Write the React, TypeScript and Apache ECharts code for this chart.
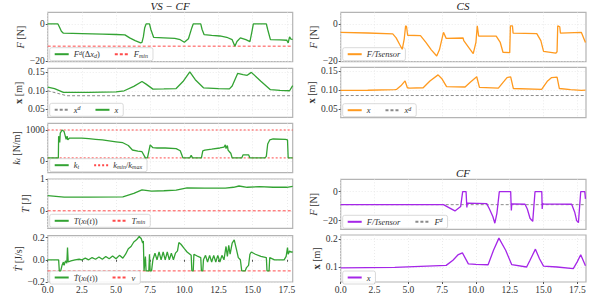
import { useEffect, useRef } from "react";
import * as echarts from "echarts";

// ---------- VS-CF (left column) ----------
const vsFT = [0, 0.75, 0.85, 1.0, 1.15, 2.5, 4.0, 5.0, 5.65, 6.0, 6.4, 6.8, 6.9, 7.0, 7.1, 7.2, 7.45, 7.55, 7.75, 8.5, 9.3, 9.7, 10.0, 10.3, 10.55, 10.65, 11.2, 11.3, 11.45, 12.0, 12.6, 13.1, 13.5, 13.7, 13.85, 14.1, 14.5, 14.8, 14.95, 15.05, 16.0, 16.1, 16.3, 17.0, 17.5, 17.6, 17.7, 17.8, 17.93];
const vsFV = [0, 0, -1.5, -4, -5, -5.2, -5.5, -5.7, -5.9, -7.5, -9, -10.2, -10, -7, -2, 0, 0, -3, -7.2, -7.5, -7.8, -8.5, -9.9, -8, -2, 0, 0, -3, -5.8, -6.2, -6.5, -7.2, -8.5, -12, -9.5, -7.5, -8.5, -9.5, -4, 0, 0, -3, -8.5, -8.6, -8.8, -10.2, -7, -8.2, -8.3];
const vsFminT = [0, 17.93];
const vsFminV = [-12, -12];

const vsXT = [0, 0.5, 1.15, 3.0, 5.0, 5.6, 6.3, 6.9, 7.2, 7.7, 8.5, 9.4, 9.9, 10.4, 10.8, 11.4, 12.5, 13.3, 13.5, 13.9, 14.3, 14.6, 14.9, 15.6, 16.3, 17.0, 17.7, 17.93];
const vsXV = [0.110, 0.106, 0.0955, 0.0955, 0.097, 0.100, 0.112, 0.125, 0.118, 0.1045, 0.105, 0.106, 0.125, 0.151, 0.130, 0.108, 0.106, 0.105, 0.113, 0.147, 0.144, 0.142, 0.150, 0.126, 0.103, 0.101, 0.100, 0.114];
const vsXdT = [0, 1.4, 17.93];
const vsXdV = [0.100, 0.0865, 0.0865];

const vsKT = [0, 0.78, 0.8, 0.88, 0.92, 1.05, 1.2, 1.35, 1.42, 1.47, 1.6, 2.5, 3.0, 3.5, 4.0, 4.5, 5.0, 5.5, 5.9, 6.2, 6.6, 6.9, 7.15, 7.3, 7.5, 7.7, 8.0, 8.6, 9.4, 9.7, 9.9, 10.4, 10.5, 10.6, 11.25, 11.35, 11.5, 12.0, 12.6, 12.9, 13.0, 13.05, 13.15, 13.2, 13.3, 13.4, 13.5, 14.2, 14.3, 14.7, 14.8, 15.9, 16.0, 16.1, 16.25, 16.5, 17.4, 17.55, 17.6, 17.93];
const vsKV = [100, 100, 800, 600, 900, 1000, 950, 700, 800, 680, 740, 740, 720, 700, 680, 650, 620, 590, 500, 355, 320, 300, 100, 100, 520, 430, 420, 420, 400, 330, 100, 100, 180, 100, 100, 330, 350, 380, 420, 450, 520, 400, 500, 350, 300, 250, 100, 100, 200, 200, 100, 100, 150, 550, 680, 710, 700, 680, 100, 100];
const vsKminT = [0, 17.93];
const vsKminV = [100, 100];
const vsKmaxT = [0, 17.93];
const vsKmaxV = [1000, 1000];

const vsTT = [0, 1.2, 3, 5.5, 6.3, 6.9, 7.6, 8.5, 9.4, 10.2, 11.5, 13.0, 13.6, 14.0, 14.6, 15.5, 16.5, 17.5, 17.93];
const vsTV = [0.48, 0.43, 0.43, 0.44, 0.55, 0.66, 0.62, 0.63, 0.65, 0.72, 0.71, 0.71, 0.74, 0.78, 0.74, 0.76, 0.74, 0.74, 0.77];
const vsTminT = [0, 17.93];
const vsTminV = [0, 0];

const vsTdT = [0, 0.8, 0.85, 0.95, 1.05, 1.15, 1.2, 1.3, 1.4, 1.45, 1.5, 1.7, 2.0, 2.3, 2.5, 2.75, 3.0, 3.25, 3.5, 3.75, 4.0, 4.25, 4.5, 4.75, 5.0, 5.25, 5.5, 5.7, 5.9, 6.1, 6.3, 6.5, 6.7, 6.85, 6.95, 7.0, 7.05, 7.15, 7.2, 7.4, 7.45, 7.5, 7.6, 7.7, 7.85, 8.0, 8.15, 8.3, 8.45, 8.6, 8.75, 8.9, 9.05, 9.2, 9.35, 9.5, 9.6, 9.75, 10.0, 10.2, 10.5, 10.55, 10.65, 10.7, 11.0, 11.2, 11.25, 11.35, 11.4, 11.55, 11.7, 11.85, 12.0, 12.15, 12.3, 12.45, 12.6, 12.75, 12.9, 13.05, 13.15, 13.25, 13.35, 13.5, 13.65, 13.8, 13.95, 14.1, 14.2, 14.45, 14.55, 14.7, 14.8, 14.9, 15.2, 15.6, 16.0, 16.05, 16.2, 16.25, 16.6, 17.0, 17.3, 17.45, 17.55, 17.6, 17.7, 17.8, 17.93];
const vsTdV = [0, 0, -0.1, -0.1, -0.05, -0.02, -0.05, -0.01, -0.03, 0.11, -0.02, -0.01, 0.0, 0.005, 0.0, 0.015, 0.0, 0.02, 0.005, 0.025, 0.005, 0.03, 0.01, 0.035, 0.01, 0.04, 0.015, 0.05, 0.10, 0.12, 0.16, 0.18, 0.21, 0.19, 0.15, 0.17, -0.1, 0.03, -0.1, -0.1, 0.05, -0.1, -0.1, 0.0, 0.06, 0.0, 0.07, 0.0, 0.07, 0.0, 0.07, 0.0, 0.06, 0.0, 0.06, 0.08, 0.155, 0.14, 0.10, 0.07, 0.04, -0.1, -0.1, 0.05, 0.03, 0.02, -0.1, -0.1, 0.0, 0.04, -0.02, 0.04, -0.02, 0.04, -0.02, 0.04, -0.02, 0.04, 0.0, 0.12, 0.03, 0.13, 0.05, 0.15, 0.18, 0.10, 0.02, 0.0, -0.1, -0.1, -0.07, -0.05, 0.05, 0.07, 0.05, 0.03, 0.02, -0.1, -0.1, 0.02, 0.0, 0.0, 0.0, 0.03, 0.11, 0.05, 0.08, 0.07, 0.07];
const vsNuT = [0, 17.93];
const vsNuV = [-0.1, -0.1];

// ---------- CS (right top) ----------
const csFT = [0, 2.0, 3.85, 4.1, 4.35, 4.55, 4.7, 4.8, 4.87, 4.95, 5.9, 6.3, 6.7, 7.1, 7.3, 7.6, 7.8, 9.05, 9.1, 9.5, 9.8, 10.0, 10.1, 10.2, 11.5, 11.8, 12.0, 12.5, 12.55, 12.7, 12.75, 14.5, 14.8, 15.0, 15.9, 16.0, 16.05, 16.2, 16.25, 17.8, 18.1];
const csFV = [-4.5, -4.9, -5.4, -7.5, -11, -13.7, -8, -1, -1.5, -6.1, -6.3, -10, -14, -17.3, -14, -4.5, -7.8, -7.6, -9, -13, -16, -10, -1, -6.5, -6.6, -10, -15.3, -15.5, -1, -1, -5, -5.2, -9, -14.8, -15.8, -15, -1, -1.5, -5, -4.6, -10];

const csXT = [0, 2, 4.0, 4.14, 4.45, 4.76, 4.93, 5.1, 6.1, 6.6, 7.2, 7.5, 7.83, 9.2, 9.6, 10.06, 10.26, 11.66, 12.1, 12.3, 12.57, 12.77, 14.86, 15.3, 15.6, 16.0, 16.17, 17.0, 17.8, 18.1];
const csXV = [0.100, 0.1005, 0.102, 0.103, 0.112, 0.125, 0.107, 0.106, 0.107, 0.125, 0.141, 0.130, 0.110, 0.109, 0.122, 0.136, 0.108, 0.106, 0.125, 0.134, 0.136, 0.105, 0.103, 0.125, 0.134, 0.135, 0.105, 0.102, 0.100, 0.101];
const csXdT = [0, 18.1];
const csXdV = [0.0865, 0.0865];

// ---------- CF (right bottom) ----------
const cfFT = [0, 7.6, 8.0, 8.45, 8.87, 9.02, 9.27, 9.33, 9.36, 9.4, 10.8, 11.0, 11.25, 11.4, 11.55, 11.73, 12.57, 12.6, 12.62, 12.65, 13.63, 13.8, 14.0, 14.2, 14.37, 14.87, 14.9, 14.93, 14.97, 17.08, 17.3, 17.45, 17.58, 17.75, 18.05, 18.1];
const cfFV = [-9, -9, -11, -13.3, -10.3, 0, 0, -11, -8, -8.3, -8.3, -12, -17.2, -21.8, -15, 0, 0, -8.5, -13, -8.5, -8.7, -12, -18.4, -20.5, 0, 0, -12, -8, -8.5, -8.7, -14, -20, -21.4, 0, 0, -5];
const cfFdT = [0, 18.1];
const cfFdV = [-9, -9];

const cfXT = [0, 4, 7.8, 8.3, 8.7, 9.0, 9.44, 10.0, 10.9, 11.3, 11.7, 12.2, 12.65, 13.75, 14.0, 14.4, 14.7, 15.0, 16.0, 17.2, 17.5, 17.75, 18.1];
const cfXV = [0.0977, 0.100, 0.1067, 0.125, 0.145, 0.151, 0.112, 0.110, 0.109, 0.160, 0.203, 0.160, 0.109, 0.101, 0.125, 0.164, 0.130, 0.104, 0.101, 0.0955, 0.120, 0.144, 0.105];

// ---------- tick labels ----------
const xTicks = [0, 2.5, 5, 7.5, 10, 12.5, 15, 17.5];
const fTicks = [-20, 0];
const xPosTicks = [0.05, 0.1, 0.15];
const kTicks = [0, 1000];
const tTicks = [0, 1];
const tdTicks = [-0.2, 0, 0.2];
const cfXPosTicks = [0.1, 0.2];

const SERIF = "Liberation Serif";
const GREEN = "#33a333";
const ORANGE = "#ff9a1f";
const PURPLE = "#a526e8";
const RED = "#ff4a4a";
const GRAY = "#8a8a8a";
const TXT = "#333";

const zip = (t: number[], v: number[]) => t.map((x, i) => [x, v[i]]);
const minus = (s: string) => s.replace("-", "\u2212");

const richStyles = {
  i: { fontStyle: "italic", fontFamily: SERIF, fontSize: 8.5, color: TXT },
  n: { fontFamily: SERIF, fontSize: 8.5, color: TXT },
  sub: { fontStyle: "italic", fontFamily: SERIF, fontSize: 6, color: TXT, verticalAlign: "bottom", padding: [3, 0, 0, 0] },
  sup: { fontStyle: "italic", fontFamily: SERIF, fontSize: 6, color: TXT, verticalAlign: "top", padding: [0, 0, 3, 0] },
};

const legendText: Record<string, string> = {
  L1_F: "{i|F}{sup|d}{n|(Δ}{i|x}{sub|d}{n|)}",
  L1_Fmin: "{i|F}{sub|min}",
  L2_xd: "{i|x}{sup|d}",
  L2_x: "{i|x}",
  L3_k: "{i|k}{sub|t}",
  L3_kmm: "{i|k}{sub|min}{n|/}{i|k}{sub|max}",
  L4_T: "{i|T}{n|(}{i|x}{sub|t}{n|(}{i|t}{n|))}",
  L4_Tmin: "{i|T}{sub|min}",
  L5_Td: "{i|Ṫ}{n|(}{i|x}{sub|t}{n|(}{i|t}{n|))}",
  L5_nu: "{i|ν}",
  CS1_F: "{i|F/Tsensor}",
  CS2_x: "{i|x}",
  CS2_xd: "{i|x}{sup|d}",
  CF1_F: "{i|F/Tsensor}",
  CF1_Fd: "{i|F}{sup|d}",
  CF2_x: "{i|x}",
};

type Panel = {
  left: number; top: number; width: number; height: number;
  xmax: number; ymin: number; ymax: number; yticks: number[];
  yfmt: (v: number) => string; name: string; gap: number; showX: boolean;
  legend: string[];
};

const LW = 245;
const RW = 245.3;
const LL = 47.7;
const RL = 340.7;
const XL = 17.93;
const XR = 18.14;
const GL = 17;
const GR = 14;

const panels: Panel[] = [
  { left: LL, top: 12.3, width: LW, height: 49.4, xmax: XL, ymin: -20.4, ymax: 6.3, yticks: fTicks, yfmt: (v) => minus(String(v)), name: "{i|F}{n| [N]}", gap: GL, showX: false, legend: ["L1_F", "L1_Fmin"] },
  { left: LL, top: 68.3, width: LW, height: 49, xmax: XL, ymin: 0.028, ymax: 0.161, yticks: xPosTicks, yfmt: (v) => v.toFixed(2), name: "{b|x}{n| [m]}", gap: GL, showX: false, legend: ["L2_xd", "L2_x"] },
  { left: LL, top: 123.3, width: LW, height: 49.4, xmax: XL, ymin: -377, ymax: 1216, yticks: kTicks, yfmt: (v) => String(v), name: "{i|k}{s|t}{n| [N/m]}", gap: GL, showX: false, legend: ["L3_k", "L3_kmm"] },
  { left: LL, top: 179, width: LW, height: 49.3, xmax: XL, ymin: -0.55, ymax: 1.0, yticks: tTicks, yfmt: (v) => String(v), name: "{i|T}{n| [J]}", gap: GL, showX: false, legend: ["L4_T", "L4_Tmin"] },
  { left: LL, top: 235.7, width: LW, height: 49.3, xmax: XL, ymin: -0.2, ymax: 0.217, yticks: tdTicks, yfmt: (v) => minus(v.toFixed(1)), name: "{i|Ṫ}{n| [J/s]}", gap: GL, showX: true, legend: ["L5_Td", "L5_nu"] },
  { left: RL, top: 12.3, width: RW, height: 49.4, xmax: XR, ymin: -20.4, ymax: 6.3, yticks: fTicks, yfmt: (v) => minus(String(v)), name: "{i|F}{n| [N]}", gap: GR, showX: false, legend: ["CS1_F"] },
  { left: RL, top: 67.3, width: RW, height: 50.4, xmax: XR, ymin: 0.028, ymax: 0.161, yticks: xPosTicks, yfmt: (v) => v.toFixed(2), name: "{b|x}{n| [m]}", gap: GR, showX: false, legend: ["CS2_x", "CS2_xd"] },
  { left: RL, top: 179.3, width: RW, height: 50, xmax: XR, ymin: -26, ymax: 8.5, yticks: fTicks, yfmt: (v) => minus(String(v)), name: "{i|F}{n| [N]}", gap: GR, showX: false, legend: ["CF1_F", "CF1_Fd"] },
  { left: RL, top: 235, width: RW, height: 50, xmax: XR, ymin: 0.048, ymax: 0.214, yticks: cfXPosTicks, yfmt: (v) => v.toFixed(1), name: "{b|x}{n| [m]}", gap: GR, showX: true, legend: ["CF2_x"] },
];

type S = { name: string; p: number; t: number[]; v: number[]; color: string; dash?: number[]; width?: number };
const seriesDefs: S[] = [
  { name: "L1_F", p: 0, t: vsFT, v: vsFV, color: GREEN },
  { name: "L1_Fmin", p: 0, t: vsFminT, v: vsFminV, color: RED, dash: [3, 2], width: 1 },
  { name: "L2_xd", p: 1, t: vsXdT, v: vsXdV, color: GRAY, dash: [3, 2], width: 1 },
  { name: "L2_x", p: 1, t: vsXT, v: vsXV, color: GREEN },
  { name: "L3_k", p: 2, t: vsKT, v: vsKV, color: GREEN },
  { name: "L3_kmm", p: 2, t: vsKminT, v: vsKminV, color: RED, dash: [2, 2], width: 1 },
  { name: "L3_kmm", p: 2, t: vsKmaxT, v: vsKmaxV, color: RED, dash: [2, 2], width: 1 },
  { name: "L4_T", p: 3, t: vsTT, v: vsTV, color: GREEN },
  { name: "L4_Tmin", p: 3, t: vsTminT, v: vsTminV, color: RED, dash: [3, 2], width: 1 },
  { name: "L5_Td", p: 4, t: vsTdT, v: vsTdV, color: GREEN },
  { name: "L5_nu", p: 4, t: vsNuT, v: vsNuV, color: RED, dash: [3, 2], width: 1 },
  { name: "CS1_F", p: 5, t: csFT, v: csFV, color: ORANGE },
  { name: "CS2_x", p: 6, t: csXT, v: csXV, color: ORANGE },
  { name: "CS2_xd", p: 6, t: csXdT, v: csXdV, color: GRAY, dash: [3, 2], width: 1 },
  { name: "CF1_F", p: 7, t: cfFT, v: cfFV, color: PURPLE },
  { name: "CF1_Fd", p: 7, t: cfFdT, v: cfFdV, color: GRAY, dash: [3, 2], width: 1 },
  { name: "CF2_x", p: 8, t: cfXT, v: cfXV, color: PURPLE },
];

function buildOption() {
  const grid = panels.map((p) => ({
    left: p.left, top: p.top, width: p.width, height: p.height,
    show: true, borderColor: "#b4b4b4", borderWidth: 1.2, backgroundColor: "transparent", containLabel: false,
  }));
  const gridLine = { show: true, lineStyle: { color: "#e6e6e6", width: 0.8, type: [1, 2] as number[] } };
  const xAxis = panels.map((p, i) => ({
    type: "value", gridIndex: i, min: 0, max: p.xmax, interval: 2.5,
    axisLine: { show: false },
    axisTick: { show: p.showX, length: 2, customValues: xTicks, lineStyle: { color: "#555" } },
    axisLabel: { show: p.showX, customValues: xTicks, margin: 3, fontFamily: SERIF, fontSize: 9.5, color: TXT, formatter: (v: number) => v.toFixed(1) },
    splitLine: { ...gridLine, customValues: xTicks },
  }));
  const yAxis = panels.map((p, i) => ({
    type: "value", gridIndex: i, min: p.ymin, max: p.ymax,
    axisLine: { show: false },
    axisTick: { show: true, length: 2, customValues: p.yticks, lineStyle: { color: "#555" } },
    axisLabel: { show: true, customValues: p.yticks, margin: 3, fontFamily: SERIF, fontSize: 9.5, color: TXT, formatter: p.yfmt },
    splitLine: { ...gridLine, customValues: p.yticks },
    name: p.name, nameLocation: "middle", nameGap: p.gap, nameRotate: 90,
    nameTextStyle: {
      fontFamily: SERIF, fontSize: 10, color: TXT,
      rich: {
        i: { fontStyle: "italic", fontFamily: SERIF, fontSize: 10.5, color: TXT },
        n: { fontFamily: SERIF, fontSize: 10, color: TXT },
        b: { fontWeight: "bold", fontFamily: SERIF, fontSize: 10.5, color: TXT },
        s: { fontStyle: "italic", fontFamily: SERIF, fontSize: 7, color: TXT, verticalAlign: "bottom" },
      },
    },
  }));
  const legend = panels.map((p) => ({
    data: p.legend,
    left: p.left + 2,
    top: p.top + p.height - 14,
    orient: "horizontal",
    itemWidth: 14, itemHeight: 6, itemGap: 14,
    padding: [2, 5, 2, 4],
    backgroundColor: "rgba(255,255,255,0.85)",
    borderColor: "#d0d0d0", borderWidth: 0.8, borderRadius: 2,
    selectedMode: false,
    itemStyle: { opacity: 0 },
    textStyle: { fontFamily: SERIF, fontSize: 8.5, color: TXT, rich: richStyles },
    formatter: (n: string) => legendText[n] || n,
  }));
  const series = seriesDefs.map((s) => ({
    name: s.name, type: "line", xAxisIndex: s.p, yAxisIndex: s.p,
    data: zip(s.t, s.v), symbol: "none", showSymbol: false,
    lineStyle: { color: s.color, width: s.width ?? 1.3, type: s.dash ?? "solid" },
    itemStyle: { color: s.color },
    z: s.dash ? 3 : 4,
  }));
  const titleStyle = { font: `italic 11px '${SERIF}', serif`, fill: "#222", textAlign: "center", textVerticalAlign: "middle" };
  const graphic = [
    { type: "text", x: 170, y: 6, style: { ...titleStyle, text: "VS − CF" } },
    { type: "text", x: 463, y: 6, style: { ...titleStyle, text: "CS" } },
    { type: "text", x: 463, y: 173, style: { ...titleStyle, text: "CF" } },
  ];
  return { animation: false, grid, xAxis, yAxis, legend, series, graphic };
}

export default function App() {
  const ref = useRef<HTMLDivElement>(null);
  useEffect(() => {
    const chart = echarts.init(ref.current!, null, { renderer: "svg" });
    chart.setOption(buildOption() as any);
    return () => chart.dispose();
  }, []);
  return <div ref={ref} style={{ position: "fixed", left: 0, top: 0, width: 598, height: 295, background: "#fff" }} />;
}
